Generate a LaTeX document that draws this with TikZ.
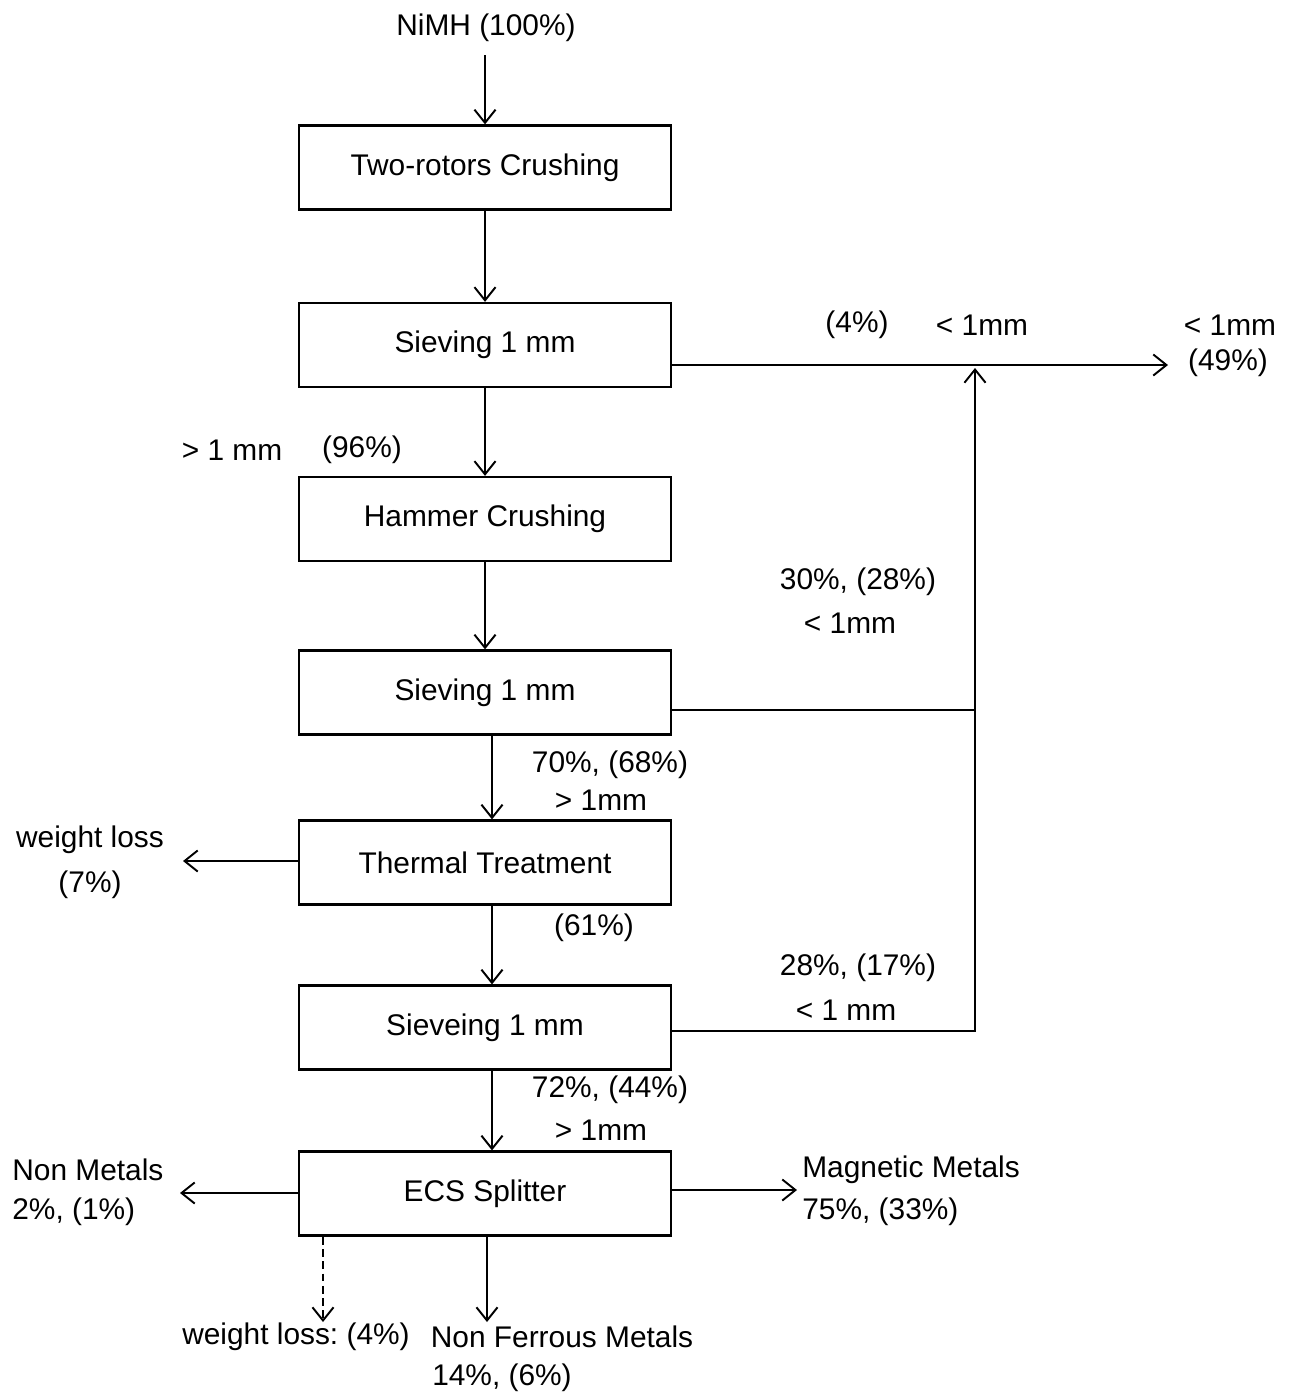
\documentclass[tikz,border=0pt]{standalone}
\usepackage{fontspec}
\setmainfont{Liberation Sans}
\usetikzlibrary{arrows.meta}
\frenchspacing
\tikzset{
  procbox/.style={draw, line width=1.3pt, minimum width=7.44cm, minimum height=1.68cm, inner sep=0pt, font=\fontsize{17}{20}\selectfont},
  lbl/.style={inner sep=0pt, font=\fontsize{17}{20}\selectfont},
  flow/.style={line width=1.1pt, -{Straight Barb[length=7.5pt,width=12pt]}},
  plain/.style={line width=1.1pt},
  dflow/.style={line width=1.1pt, dash pattern=on 4.5pt off 2.5pt, -{Straight Barb[length=7.5pt,width=12pt]}}
}
\begin{document}
\begin{tikzpicture}[x=0.02cm,y=-0.02cm]
\useasboundingbox (0,0) rectangle (1289,1394);
% process boxes
\node[procbox] (b1) at (485,167.5) {Two-rotors Crushing};
\node[procbox] (b2) at (485,345) {Sieving 1 mm};
\node[procbox] (b3) at (485,519) {Hammer Crushing};
\node[procbox] (b4) at (485,692.5) {Sieving 1 mm};
\node[procbox] (b5) at (485,862.5) {Thermal Treatment};
\node[procbox] (b6) at (485,1027.5) {Sieveing 1 mm};
\node[procbox] (b7) at (485,1193.5) {ECS Splitter};
% labels
\node[lbl] (nimh) at (486,28) {NiMH (100\%)};
\node[lbl] (l96a) at (232,450) {> 1 mm};
\node[lbl] (l96b) at (362,450) {(96\%)};
\node[lbl] (l4a) at (857,325) {(4\%)};
\node[lbl] (l4b) at (982,325) {< 1mm};
\node[lbl] (l49a) at (1230,325) {< 1mm};
\node[lbl] (l49b) at (1228,363) {(49\%)};
\node[lbl] (l30a) at (858,582) {30\%, (28\%)};
\node[lbl] (l30b) at (850,623) {< 1mm};
\node[lbl] (l70a) at (610,765) {70\%, (68\%)};
\node[lbl] (l70b) at (601,800) {> 1mm};
\node[lbl] (wla) at (90,840) {weight loss};
\node[lbl] (wlb) at (90,885) {(7\%)};
\node[lbl] (l61) at (594,928) {(61\%)};
\node[lbl] (l28a) at (858,968) {28\%, (17\%)};
\node[lbl] (l28b) at (846,1010) {< 1 mm};
\node[lbl] (l72a) at (610,1090) {72\%, (44\%)};
\node[lbl] (l72b) at (601,1130) {> 1mm};
\node[lbl, anchor=west] (nma) at (12,1170) {Non Metals};
\node[lbl, anchor=west] (nmb) at (12,1212) {2\%, (1\%)};
\node[lbl, anchor=west] (mma) at (802,1170) {Magnetic Metals};
\node[lbl, anchor=west] (mmb) at (802,1212) {75\%, (33\%)};
\node[lbl] (wl4) at (296,1337) {weight loss: (4\%)};
\node[lbl] (nfa) at (562,1337) {Non Ferrous Metals};
\node[lbl] (nfb) at (502,1378) {14\%, (6\%)};
% free ends and junctions
\coordinate (n0) at (485,55);
\coordinate (j2) at (975,365);
\coordinate (out) at (1168,365);
\coordinate (j4) at (975,710);
\coordinate (j6) at (975,1031);
\coordinate (wl) at (183,861);
\coordinate (nm) at (180,1193);
\coordinate (mm) at (797,1190);
\coordinate (dl) at (323,1322);
\coordinate (nf) at (487,1322);
\coordinate (c45) at (492,0);
% main flow
\draw[flow] (n0) -- (b1.north);
\draw[flow] (b1) -- (b2);
\draw[flow] (b2) -- (b3);
\draw[flow] (b3) -- (b4);
\draw[flow] (b4.south -| c45) -- (b5.north -| c45);
\draw[flow] (b5.south -| c45) -- (b6.north -| c45);
\draw[flow] (b6.south -| c45) -- (b7.north -| c45);
% fines line
\draw[flow] (b2.east |- j2) -- (out);
\draw[plain] (b4.east |- j4) -- (j4);
\draw[flow] (b6.east |- j6) -- (j6) -- ([yshift=-0.06cm]j2);
% side outputs
\draw[flow] (b5.west |- wl) -- (wl);
\draw[flow] (b7.west |- nm) -- (nm);
\draw[flow] (b7.east |- mm) -- (mm);
\draw[dflow] (b7.south -| dl) -- (dl);
\draw[flow] (b7.south -| nf) -- (nf);
\end{tikzpicture}
\end{document}
